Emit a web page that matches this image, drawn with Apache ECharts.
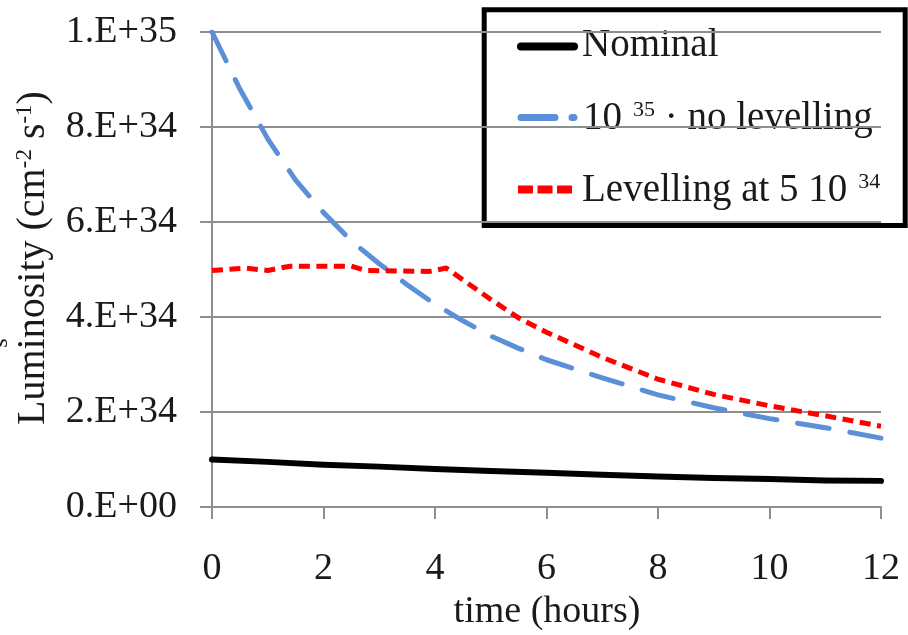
<!DOCTYPE html>
<html>
<head>
<meta charset="utf-8">
<title>Luminosity vs time</title>
<script src="https://cdn.jsdelivr.net/npm/echarts@6/dist/echarts.min.js"></script>
<style>
  html, body { margin: 0; padding: 0; background: #ffffff; }
  #chart { width: 908px; height: 635px; }
</style>
</head>
<body>
<div id="chart"></div>
<script>
// Luminosity (cm^-2 s^-1) against time in hours for three running scenarios.
const xTicks = [0, 2, 4, 6, 8, 10, 12];
const yTicks = [0, 2e34, 4e34, 6e34, 8e34, 1e35];

const nominalHours = [0, 1, 2, 3, 4, 5, 6, 7, 8, 9, 10, 11, 12];
const nominal = [1.0e34, 0.95e34, 0.89e34, 0.85e34, 0.80e34, 0.76e34, 0.72e34,
                 0.68e34, 0.64e34, 0.61e34, 0.59e34, 0.56e34, 0.55e34];

const noLevellingHours = [0, 0.5, 1, 1.5, 2, 2.5, 3, 3.5, 4, 4.5, 5, 5.5, 6, 7, 8, 9, 10, 11, 12];
const noLevelling = [10.0e34, 8.8e34, 7.75e34, 6.88e34, 6.2e34, 5.6e34, 5.12e34, 4.68e34,
                     4.27e34, 3.92e34, 3.6e34, 3.34e34, 3.1e34, 2.72e34, 2.36e34, 2.09e34,
                     1.86e34, 1.67e34, 1.45e34];

const levellingHours = [0, 0.6, 1.0, 1.4, 2.5, 2.75, 3.9, 4.2, 5, 5.5, 6, 7, 8, 9, 10, 11, 12];
const levelling = [4.98e34, 5.03e34, 4.98e34, 5.07e34, 5.07e34, 4.98e34, 4.96e34, 5.03e34,
                   4.37e34, 3.98e34, 3.68e34, 3.15e34, 2.69e34, 2.37e34, 2.13e34, 1.92e34, 1.70e34];

const seriesNames = ['Nominal', '10 35 - no levelling', 'Levelling at 5 10 34'];

const FONT = '"Liberation Serif", "Times New Roman", serif';
const TEXT = '#1a1a1a';
const GRID = '#8e8e8e';

function pairs(xs, ys) {
  return xs.map((x, i) => [x, ys[i]]);
}

// 8e34 -> "8.E+34", 0 -> "0.E+00"
function sciLabel(v) {
  if (v === 0) return '0.E+00';
  const exp = Math.floor(Math.log10(v) + 1e-9);
  const mant = Math.round(v / Math.pow(10, exp));
  return mant + '.E+' + String(exp).padStart(2, '0');
}

const chart = echarts.init(document.getElementById('chart'), null, { renderer: 'canvas' });

const supStyle = { fontFamily: FONT, fontSize: 23, lineHeight: 16, verticalAlign: 'top', fill: TEXT };
const supStyleLeg = { fontFamily: FONT, fontSize: 22, lineHeight: 16, verticalAlign: 'top', fill: TEXT, padding: [0, 0, 0, 11] };

chart.setOption({
  animation: false,
  backgroundColor: '#ffffff',
  grid: { left: 212, right: 27, top: 32, bottom: 128, containLabel: false },
  xAxis: {
    type: 'value',
    min: xTicks[0],
    max: xTicks[xTicks.length - 1],
    interval: xTicks[1] - xTicks[0],
    axisLine: { show: true, lineStyle: { color: GRID, width: 2 } },
    axisTick: { show: true, length: 12, lineStyle: { color: GRID, width: 2 } },
    splitLine: { show: false },
    axisLabel: { margin: 43, fontFamily: FONT, fontSize: 38, color: TEXT }
  },
  yAxis: {
    type: 'value',
    min: yTicks[0],
    max: yTicks[yTicks.length - 1],
    interval: yTicks[1] - yTicks[0],
    axisLine: { show: true, lineStyle: { color: GRID, width: 2 } },
    axisTick: { show: true, length: 12, lineStyle: { color: GRID, width: 2 } },
    splitLine: { show: true, lineStyle: { color: GRID, width: 2 } },
    axisLabel: { margin: 35, fontFamily: FONT, fontSize: 38, color: TEXT, formatter: sciLabel }
  },
  series: [
    {
      name: seriesNames[0],
      type: 'line',
      data: pairs(nominalHours, nominal),
      showSymbol: false,
      lineStyle: { color: '#000000', width: 6, cap: 'round', join: 'round' },
      z: 3
    },
    {
      name: seriesNames[1],
      type: 'line',
      data: pairs(noLevellingHours, noLevelling),
      showSymbol: false,
      lineStyle: { color: '#5b8fd8', width: 5, type: [32, 21], cap: 'round', join: 'round' },
      z: 4
    },
    {
      name: seriesNames[2],
      type: 'line',
      data: pairs(levellingHours, levelling),
      showSymbol: false,
      lineStyle: { color: '#ff0000', width: 5, type: [11, 6.5], cap: 'butt', join: 'round' },
      z: 5
    }
  ],
  graphic: [
    // y-axis title, read bottom to top
    {
      type: 'text',
      x: 33.5, y: 258,
      rotation: Math.PI / 2,
      style: {
        text: '{n|Luminosity (cm}{s|-2}{n| s}{s|-1}{n|)}',
        align: 'center', verticalAlign: 'middle',
        rich: {
          n: { fontFamily: FONT, fontSize: 40, fill: TEXT },
          s: supStyle
        }
      }
    },
    // clipped glyph at the left margin
    {
      type: 'text',
      x: 1, y: 343,
      rotation: Math.PI / 2,
      style: { text: 's', fontFamily: FONT, fontSize: 24, fill: TEXT, align: 'center', verticalAlign: 'middle' }
    },
    // x-axis title
    {
      type: 'text',
      x: 547, y: 612,
      style: { text: 'time (hours)', fontFamily: FONT, fontSize: 38, fill: TEXT, align: 'center', verticalAlign: 'middle' }
    },
    // legend box
    {
      type: 'group',
      z: 100,
      children: [
        {
          type: 'rect',
          shape: { x: 484.2, y: 9.8, width: 421, height: 215.7 },
          style: { fill: '#ffffff', stroke: '#000000', lineWidth: 5 }
        },
        {
          type: 'line',
          shape: { x1: 521, y1: 46.5, x2: 574, y2: 46.5 },
          style: { stroke: '#000000', lineWidth: 8, lineCap: 'round' }
        },
        {
          type: 'text',
          x: 582, y: 46,
          style: { text: seriesNames[0], fontFamily: FONT, fontSize: 39, fill: TEXT, align: 'left', verticalAlign: 'middle' }
        },
        {
          type: 'line',
          shape: { x1: 521, y1: 117.5, x2: 574, y2: 117.5 },
          style: { stroke: '#5b8fd8', lineWidth: 7, lineCap: 'round', lineDash: [34, 17] }
        },
        {
          type: 'text',
          x: 583, y: 118.5,
          style: {
            text: '{n|10}{s|35}{n| \u00b7 no levelling}',
            align: 'left', verticalAlign: 'middle',
            rich: {
              n: { fontFamily: FONT, fontSize: 39, fill: TEXT },
              s: supStyleLeg
            }
          }
        },
        {
          type: 'line',
          shape: { x1: 518, y1: 189.5, x2: 572, y2: 189.5 },
          style: { stroke: '#ff0000', lineWidth: 8, lineCap: 'butt', lineDash: [15, 4.5] }
        },
        {
          type: 'text',
          x: 582, y: 191,
          style: {
            text: '{n|Levelling at 5 10}{s|34}',
            align: 'left', verticalAlign: 'middle',
            rich: {
              n: { fontFamily: FONT, fontSize: 39, fill: TEXT },
              s: supStyleLeg
            }
          }
        }
      ]
    }
  ]
});
</script>
</body>
</html>
